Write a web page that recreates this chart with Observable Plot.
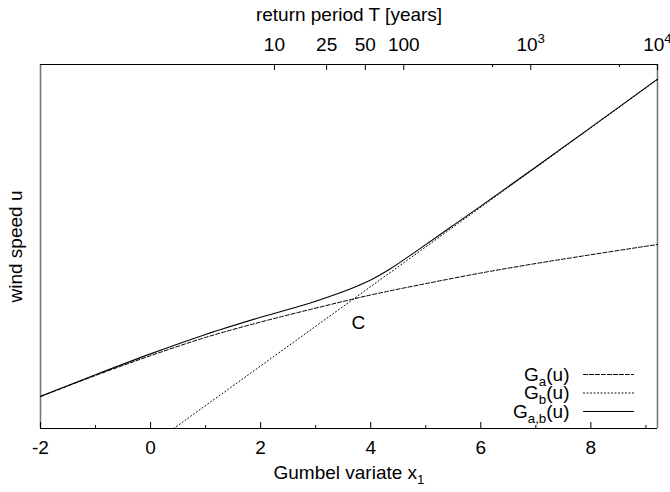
<!DOCTYPE html>
<html>
<head>
<meta charset="utf-8">
<script src="https://cdn.jsdelivr.net/npm/d3@7"></script>
<script src="https://cdn.jsdelivr.net/npm/@observablehq/plot@0.6"></script>
<style>
  body { margin: 0; background: #fff; }
  #chart svg { display: block; }
</style>
</head>
<body>
<div id="chart"></div>
<script>
// Wind speed u (relative units) against the Gumbel reduced variate x1.
const gaX = [-2, -1, 0, 1, 2, 3, 4, 5, 6, 7, 8, 9.21];
const gaU = [8.7, 14.5, 19.9, 24.9, 29.1, 32.9, 36.5, 39.6, 42.5, 45.1, 47.5, 50.3];

const gbX = [0.42, 2, 4, 6, 8, 9.21];
const gbU = [0, 17.1, 38.8, 60.5, 82.2, 95.4];

const gabX = [-2, -1, 0, 1, 2, 3, 3.6, 4, 4.35, 4.85, 5.45, 6, 7, 8, 9.21];
const gabU = [8.8, 14.7, 20.4, 25.7, 30.4, 34.8, 38.0, 40.6, 43.6, 48.7, 55.0, 60.8, 71.5, 82.3, 95.5];

// Crossing point C of G_a and G_b
const crossX = [3.65];
const crossU = [35.1];

// Bottom axis ticks
const majorTicks = [-2, 0, 2, 4, 6, 8];
const minorTicks = [-1, 1, 3, 5, 7, 9];

// Top axis: return periods in years
const periods = [10, 25, 50, 100, 1000, 10000];
const periodLabels = ["10", "25", "50", "100", "10^{3}", "10^{4}"];
const minorPeriods = [500, 5000];

// Legend entries
const legendNames = ["G_{a}(u)", "G_{b}(u)", "G_{a,b}(u)"];
const legendDash = ["4,2", "1,2.5", null];

const gumbel = T => -Math.log(-Math.log(1 - 1 / T));
const rows = (xs, us) => xs.map((x, i) => ({x, u: us[i]}));

const W = 670, H = 492;
const M = {top: 64, right: 13, bottom: 64, left: 40};
const innerH = H - M.top - M.bottom;
const FS = 19;
const xMin = -2, xMax = gumbel(10000);
const uMax = 99.5;

const periodX = periods.map(gumbel);
const labelAt = new Map(periodX.map((x, i) => [x, periodLabels[i]]));

const lineShape = {draw(ctx, l) { ctx.moveTo(0, 0); ctx.lineTo(0, -l); }};

const plot = Plot.plot({
  width: W,
  height: H,
  marginTop: M.top,
  marginRight: M.right,
  marginBottom: M.bottom,
  marginLeft: M.left,
  style: {fontFamily: "'Liberation Sans', Arial, Helvetica, sans-serif", fontSize: FS + "px", background: "#fff"},
  x: {domain: [xMin, xMax], axis: null},
  y: {domain: [0, uMax], axis: null},
  marks: [
    // frame
    Plot.ruleX([xMin, xMax], {stroke: "#777", strokeWidth: 1.6}),
    Plot.ruleY([0, uMax], {stroke: "#000", strokeWidth: 1}),

    // bottom ticks (inward) and labels
    Plot.ruleX(majorTicks, {insetTop: innerH - 6, stroke: "#000"}),
    Plot.ruleX(minorTicks, {insetTop: innerH - 3, stroke: "#000"}),
    Plot.axisX(majorTicks, {anchor: "bottom", label: null, tickSize: 0, tickPadding: 12, tickFormat: d => String(d), fontSize: FS}),

    // top ticks (inward) and return-period labels
    Plot.ruleX(periodX, {insetBottom: innerH - 6, stroke: "#000"}),
    Plot.ruleX(minorPeriods.map(gumbel), {insetBottom: innerH - 3, stroke: "#000"}),
    Plot.axisX(periodX, {anchor: "top", label: null, tickSize: 0, tickPadding: 14, tickFormat: d => labelAt.get(d), fontSize: FS}),

    // axis titles
    Plot.text(["Gumbel variate x_{1}"], {frameAnchor: "bottom", lineAnchor: "middle", dy: 44, fontSize: FS}),
    Plot.text(["return period T [years]"], {frameAnchor: "top", lineAnchor: "middle", dy: -50, fontSize: FS}),
    Plot.text(["wind speed u"], {frameAnchor: "left", textAnchor: "middle", rotate: -90, dx: -25, fontSize: FS}),

    // curves
    Plot.line(rows(gaX, gaU), {x: "x", y: "u", curve: "monotone-x", stroke: "#000", strokeWidth: 1, strokeDasharray: "4,2"}),
    Plot.line(rows(gbX, gbU), {x: "x", y: "u", stroke: "#000", strokeWidth: 1, strokeDasharray: "1,2.5"}),
    Plot.line(rows(gabX, gabU), {x: "x", y: "u", curve: "monotone-x", stroke: "#000", strokeWidth: 1.1}),

    // label of the crossing point
    Plot.text(rows(crossX, crossU), {x: "x", y: "u", text: () => "C", dx: 7, dy: 23, fontSize: FS}),

    // legend
    ...legendNames.map((name, i) => Plot.text([name], {
      frameAnchor: "bottom-right", textAnchor: "end", lineAnchor: "middle", dx: -88, dy: -54 + 18.5 * i, fontSize: FS
    })),
    ...legendNames.map((name, i) => Plot.vector([name], {
      frameAnchor: "bottom-right", dx: -74, dy: -54 + 18.5 * i, length: 50, rotate: 90, anchor: "start",
      shape: lineShape, stroke: "#000", strokeWidth: 1, strokeDasharray: legendDash[i]
    }))
  ]
});

// Turn "_{..}" and "^{..}" in text into sub- and superscript tspans
function richText(root, fs) {
  d3.select(root).selectAll("text").each(function() {
    const s = this.textContent;
    if (!/[_^]\{/.test(s)) return;
    const parts = s.split(/([_^]\{[^}]*\})/).filter(p => p);
    this.textContent = "";
    let shift = 0;
    for (const p of parts) {
      const m = p.match(/^([_^])\{(.*)\}$/);
      const t = d3.select(this).append("tspan");
      if (m) {
        const target = m[1] === "_" ? fs * 0.28 : -fs * 0.42;
        t.attr("dy", target - shift).attr("font-size", fs * 0.7).text(m[2]);
        shift = target;
      } else {
        if (shift) t.attr("dy", -shift);
        t.text(p);
        shift = 0;
      }
    }
  });
}
richText(plot, FS);

document.getElementById("chart").appendChild(plot);
</script>
</body>
</html>
